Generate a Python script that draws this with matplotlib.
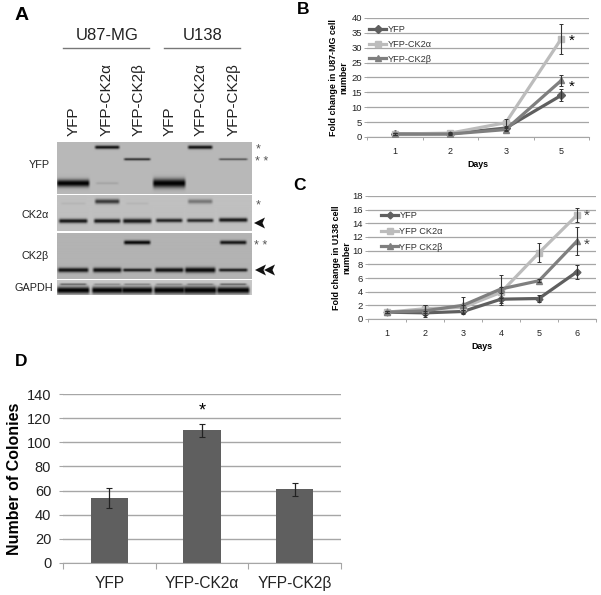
import numpy as np
import matplotlib

matplotlib.use("Agg")
import matplotlib.pyplot as plt
from matplotlib.path import Path
from matplotlib.patches import PathPatch

plt.rcParams["font.family"] = ["Liberation Sans", "DejaVu Sans"]

W, H = 601, 595

GRID = "#a6a6a6"
DARK = "#5f5f5f"
LIGHT = "#bcbcbc"
MID = "#7f7f7f"

# panel B
b_days = ["1", "2", "3", "5"]
b_yfp = [1, 1.1, 3, 14]
b_yfp_err = [0.2, 0.2, 0.5, 2]
b_alpha = [1, 1.3, 4.8, 33]
b_alpha_err = [0.2, 0.3, 1.2, 5]
b_beta = [1, 1, 2.5, 19]
b_beta_err = [0.2, 0.2, 0.5, 2]

# panel C
c_days = ["1", "2", "3", "4", "5", "6"]
c_yfp = [1, 0.9, 1.1, 2.9, 3.0, 6.9]
c_yfp_err = [0.1, 0.3, 0.2, 0.9, 0.5, 1.0]
c_alpha = [1, 1.5, 1.7, 3.9, 9.7, 15.2]
c_alpha_err = [0.1, 0.6, 0.4, 0.8, 1.4, 1.0]
c_beta = [1, 1.2, 2.0, 4.4, 5.6, 11.4]
c_beta_err = [0.1, 0.9, 1.2, 2.1, 0.2, 2.0]

# panel D
d_groups = ["YFP", "YFP-CK2α", "YFP-CK2β"]
d_colonies = [54, 110, 61]
d_err = [8.5, 5.5, 5.5]

# panel A, lane centres in px across the blot, bands as (lane, y px, half width, half height, strength)
lane_x = [16, 50, 80, 112, 143, 176]
yfp_bands = [
    (0, 41, 16, 3.6, 1.0), (3, 41, 16, 4.4, 1.0), (1, 5, 12, 1.7, 0.92), (4, 5, 12, 1.8, 0.92),
    (2, 17, 13, 1.2, 0.75), (5, 17, 14, 1.0, 0.55), (1, 41, 11, 1.2, 0.1),
]
ck2a_bands = [
    (0, 26, 14, 2.1, 0.88), (1, 26, 13, 2.1, 0.88), (2, 26, 14, 2.3, 0.88), (3, 25.5, 13, 1.9, 0.82),
    (4, 25.5, 13, 1.8, 0.78), (5, 25, 14, 2.0, 0.88), (1, 7, 12, 2.3, 0.7), (4, 7, 12, 2.2, 0.38),
    (0, 9, 12, 1.2, 0.05), (2, 9, 11, 1.2, 0.05),
]
ck2b_bands = [
    (0, 37, 15, 2.2, 0.9), (1, 37, 14, 2.3, 0.92), (2, 37, 14, 1.6, 0.85), (3, 37, 14, 2.2, 0.92),
    (4, 37, 15, 2.6, 0.96), (5, 37, 14, 1.6, 0.85), (2, 10, 13, 2.0, 0.96), (5, 10, 13, 1.9, 0.88),
]
gapdh_bands = [
    (0, 10, 16, 3.4, 1.0), (1, 10, 15, 3.4, 1.0), (2, 10, 15, 3.4, 1.0), (3, 10, 15, 3.6, 1.0),
    (4, 10, 16, 3.8, 1.0), (5, 10, 16, 3.4, 1.0),
    (0, 4, 13, 0.9, 0.5), (1, 4, 13, 0.8, 0.3), (2, 4, 13, 0.8, 0.35), (3, 4, 13, 0.8, 0.3),
    (4, 4, 13, 0.8, 0.35), (5, 4, 13, 0.9, 0.5),
]
blot_rows = [
    ("YFP", 142, 194, 0.72, yfp_bands),
    ("CK2α", 195, 231, 0.75, ck2a_bands),
    ("CK2β", 233, 279, 0.70, ck2b_bands),
    ("GAPDH", 280, 295, 0.78, gapdh_bands),
]
blot_labels = ["YFP", "YFP-CK2α", "YFP-CK2β", "YFP", "YFP-CK2α", "YFP-CK2β"]
lane_label_x = [74, 107, 139, 170, 201, 234]


def px_axes(fig, x0, top, x1, bottom, **kw):
    return fig.add_axes([x0 / W, 1 - bottom / H, (x1 - x0) / W, (bottom - top) / H], **kw)


def blot_image(x_size, y_size, base, bands):
    xx, yy = np.meshgrid(np.arange(x_size * 2) / 2, np.arange(y_size * 2) / 2)
    img = np.full(xx.shape, base)
    for lane, y, hw, hh, strength in bands:
        cx = lane_x[lane]
        prof_x = np.clip((hw + 1.5 - np.abs(xx - cx)) / 3, 0, 1)
        prof_y = np.exp(-(((yy - y) / hh) ** 2))
        img = img * (1 - strength * prof_x * prof_y)
    return img


def style_line_axes(ax, ymax, step, cats):
    ax.set_xlim(-0.5, len(cats) - 0.5)
    ax.set_ylim(0, ymax)
    ax.set_yticks(np.arange(0, ymax + 1, step))
    ax.set_xticks(range(len(cats)))
    ax.set_xticklabels(cats)
    ax.set_xticks(np.arange(-0.5, len(cats)), minor=True)
    ax.grid(axis="y", color=GRID, lw=0.9)
    ax.set_axisbelow(True)
    for side in ["top", "right", "left"]:
        ax.spines[side].set_visible(False)
    ax.spines["bottom"].set_color(GRID)
    ax.tick_params(axis="x", which="major", length=0, labelsize=6.5, pad=7, labelcolor="#222222")
    ax.tick_params(axis="x", which="minor", length=2, color=GRID, width=0.7)
    ax.tick_params(axis="y", length=2, color=GRID, width=0.7, labelsize=6.8, pad=1.5, labelcolor="#222222")


def draw_series(ax, x, y, err, color, marker, label, ms):
    ax.errorbar(x, y, yerr=err, fmt="none", ecolor="#333333", elinewidth=0.8, capsize=1.5, capthick=0.7, zorder=4)
    ax.plot(x, y, color=color, lw=2.3, marker=marker, ms=ms, label=label, zorder=3)


fig = plt.figure(figsize=(W / 100, H / 100), dpi=100)

# page overlay in pixel coordinates for labels and arrows
page = fig.add_axes([0, 0, 1, 1], zorder=5)
page.set_xlim(0, W)
page.set_ylim(H, 0)
page.axis("off")
page.patch.set_alpha(0)

# panel A
for name, top, bottom, base, bands in blot_rows:
    ax = px_axes(fig, 57, top, 252, bottom)
    ax.imshow(blot_image(195, bottom - top, base, bands), cmap="gray", vmin=0, vmax=1,
              aspect="auto", interpolation="bilinear")
    ax.axis("off")

page.text(22, 15, "A", fontsize=14, fontweight="bold", ha="center", va="center")
page.text(107, 36, "U87-MG", fontsize=12, ha="center", va="center", color="#222222")
page.text(203, 36, "U138", fontsize=12, ha="center", va="center", color="#222222")
page.plot([63, 149], [48, 48], color="#777777", lw=1)
page.plot([164, 240], [48, 48], color="#777777", lw=1)
for x, label in zip(lane_label_x, blot_labels):
    page.text(x, 136, label, rotation=90, fontsize=11, ha="center", va="bottom", color="#222222")
for label, x, y in [("YFP", 50, 165), ("CK2α", 49, 215), ("CK2β", 49, 256), ("GAPDH", 53, 288)]:
    page.text(x, y, label, fontsize=7.8, ha="right", va="center", color="#222222")
for label, x, y in [("*", 258, 149), ("* *", 262, 162), ("*", 258, 205), ("* *", 261, 246)]:
    page.text(x, y, label, fontsize=9, ha="center", va="center", color="#555555")

arrow_tip = [(-5.5, 0), (5.5, -5.5), (3, 0), (5.5, 5.5), (-5.5, 0)]
codes = [Path.MOVETO, Path.LINETO, Path.LINETO, Path.LINETO, Path.CLOSEPOLY]
for cx, cy in [(259.5, 223), (260.5, 270), (269.5, 270)]:
    verts = [(cx + dx, cy + dy) for dx, dy in arrow_tip]
    page.add_patch(PathPatch(Path(verts, codes), color="#111111", lw=0))

# panel B
ax_b = px_axes(fig, 367, 18, 589, 137)
x = range(len(b_days))
draw_series(ax_b, x, b_yfp, b_yfp_err, DARK, "D", "YFP", 4)
draw_series(ax_b, x, b_alpha, b_alpha_err, LIGHT, "s", "YFP-CK2α", 5)
draw_series(ax_b, x, b_beta, b_beta_err, MID, "^", "YFP-CK2β", 5)
style_line_axes(ax_b, 40, 5, b_days)
ax_b.set_xlabel("Days", fontsize=6.4, fontweight="bold", labelpad=3)
ax_b.set_ylabel("Fold change in U87-MG cell\nnumber", fontsize=6.4, fontweight="bold", labelpad=2.5, linespacing=1.15)
ax_b.legend(loc="upper left", bbox_to_anchor=(0.009, 0.94), frameon=False, fontsize=6.6, labelspacing=0.62,
            handlelength=1.9, handletextpad=0.1, borderpad=0, borderaxespad=0, labelcolor="#333333")
page.text(572, 41, "*", fontsize=11, ha="center", va="center")
page.text(572, 87, "*", fontsize=11, ha="center", va="center")
page.text(303, 9, "B", fontsize=12.5, fontweight="bold", ha="center", va="center")

# panel C
ax_c = px_axes(fig, 368, 196, 596, 319)
x = range(len(c_days))
draw_series(ax_c, x, c_yfp, c_yfp_err, DARK, "D", "YFP", 3.5)
draw_series(ax_c, x, c_alpha, c_alpha_err, LIGHT, "s", "YFP CK2α", 5)
draw_series(ax_c, x, c_beta, c_beta_err, MID, "^", "YFP CK2β", 5)
style_line_axes(ax_c, 18, 2, c_days)
ax_c.set_xlabel("Days", fontsize=6.4, fontweight="bold", labelpad=3)
ax_c.set_ylabel("Fold change in U138 cell\nnumber", fontsize=6.4, fontweight="bold", labelpad=1, linespacing=1.15)
ax_c.legend(loc="upper left", bbox_to_anchor=(0.057, 0.875), frameon=False, fontsize=6.6, labelspacing=0.72,
            handlelength=1.9, handletextpad=0.1, borderpad=0, borderaxespad=0, labelcolor="#333333")
page.text(587, 216, "*", fontsize=11, ha="center", va="center", color="#444444")
page.text(587, 245, "*", fontsize=11, ha="center", va="center", color="#444444")
page.text(300, 185, "C", fontsize=12.5, fontweight="bold", ha="center", va="center")

# panel D
ax_d = px_axes(fig, 63, 394, 341, 563)
ax_d.bar(range(3), d_colonies, width=0.4, color="#5f5f5f", zorder=2)
ax_d.errorbar(range(3), d_colonies, yerr=d_err, fmt="none", ecolor="#222222", elinewidth=0.9,
              capsize=2, capthick=0.8, zorder=3)
ax_d.set_xlim(-0.5, 2.5)
ax_d.set_ylim(0, 140)
ax_d.set_yticks(np.arange(0, 141, 20))
ax_d.set_xticks(range(3))
ax_d.set_xticklabels(d_groups, va="baseline")
ax_d.set_xticks(np.arange(-0.5, 3), minor=True)
ax_d.grid(axis="y", color=GRID, lw=1)
ax_d.set_axisbelow(True)
for side in ["top", "right", "left"]:
    ax_d.spines[side].set_visible(False)
ax_d.spines["bottom"].set_color(GRID)
ax_d.tick_params(axis="x", which="major", length=0, labelsize=11.2, pad=18, labelcolor="#222222")
ax_d.tick_params(axis="x", which="minor", length=4, color=GRID, width=0.8)
ax_d.tick_params(axis="y", length=3, color=GRID, width=0.8, labelsize=10.5, pad=5.5, labelcolor="#222222")
ax_d.set_ylabel("Number of Colonies", fontsize=11.5, fontweight="bold", labelpad=3)
page.text(202, 411, "*", fontsize=13, ha="center", va="center")
page.text(21, 361, "D", fontsize=12.5, fontweight="bold", ha="center", va="center")

fig.savefig("out.png", dpi=100)
